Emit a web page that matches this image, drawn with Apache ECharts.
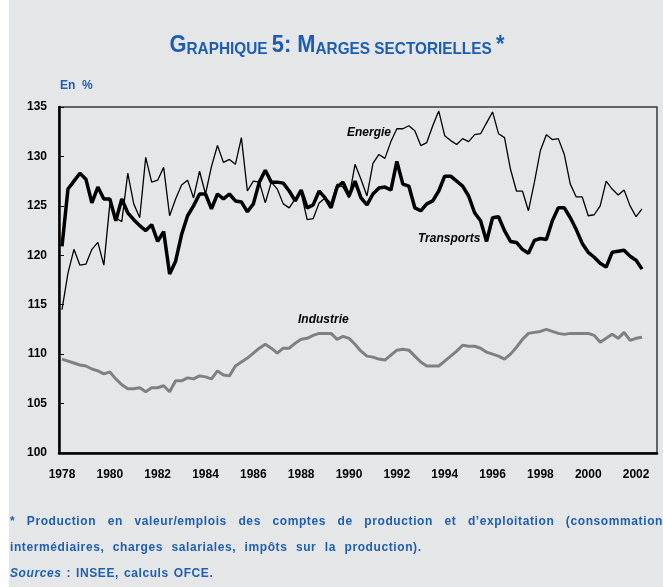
<!DOCTYPE html>
<html>
<head>
<meta charset="utf-8">
<title>Marges sectorielles</title>
<script src="https://cdn.jsdelivr.net/npm/echarts@6/dist/echarts.min.js"></script>
<style>
  html, body { margin: 0; padding: 0; background: #fff; }
  #wrap { position: relative; width: 663px; height: 587px; }
  #chart { position: absolute; left: 0; top: 0; width: 663px; height: 587px; }
  .notes {
    position: absolute; left: 10px; top: 508px; width: 653px;
    font-family: "Liberation Sans", Arial, sans-serif; font-weight: bold;
    font-size: 12px; color: #1f5fb0; line-height: 26px; letter-spacing: 0.6px;
  }
  .notes .l1 { text-align: justify; text-align-last: justify; white-space: nowrap; word-spacing: 6px; }
  .notes .l2 { word-spacing: 4.5px; }
  .notes .l3 { word-spacing: 1px; }
</style>
</head>
<body>
<div id="wrap">
  <div id="chart"></div>
  <div class="notes">
    <div class="l1">* Production en valeur/emplois des comptes de production et d’exploitation (consommation</div>
    <div class="l2">intermédiaires, charges salariales, impôts sur la production).</div>
    <div class="l3"><i>Sources</i> : INSEE, calculs OFCE.</div>
  </div>
</div>
<script>
// trimestres 1978T1 .. 2002T4, valeurs jusqu'a 2002T2
const years = ['1978','1979','1980','1981','1982','1983','1984','1985','1986','1987','1988','1989','1990',
  '1991','1992','1993','1994','1995','1996','1997','1998','1999','2000','2001','2002']
const quarters = ['T1','T2','T3','T4']
const yearLabels = ['1978','1980','1982','1984','1986','1988','1990','1992','1994','1996','1998','2000','2002']

const energie = [
  114.5, 118.2, 120.6, 119.0, 119.1, 120.6, 121.3, 119.0, 125.2, 123.8,
  123.4, 128.3, 125.2, 123.8, 129.9, 127.4, 127.6, 128.9, 124.0, 125.7,
  127.1, 127.6, 125.8, 128.5, 126.2, 129.0, 131.1, 129.4, 129.7, 129.2,
  131.9, 126.5, 127.5, 127.4, 125.3, 127.4, 126.7, 125.2, 124.8, 125.7,
  126.3, 123.6, 123.7, 125.3, 125.8, 125.3, 127.2, 126.9, 125.8, 129.2,
  127.7, 126.0, 129.3, 130.2, 129.8, 131.5, 132.8, 132.8, 133.1, 132.6,
  131.1, 131.4, 133.1, 134.6, 132.1, 131.6, 131.2, 131.8, 131.5, 132.2,
  132.3, 133.4, 134.5, 132.3, 131.9, 128.7, 126.5, 126.5, 124.5, 127.4,
  130.6, 132.2, 131.7, 131.8, 130.2, 127.2, 125.9, 125.9, 124.0, 124.1,
  125.0, 127.5, 126.7, 126.1, 126.6, 125.0, 123.9, 124.7
]
const transports = [
  120.9, 126.7, 127.5, 128.3, 127.7, 125.3, 126.9, 125.7, 125.7, 123.5,
  125.7, 124.3, 123.6, 123.0, 122.5, 123.1, 121.4, 122.4, 118.1, 119.4,
  122.1, 124.0, 125.0, 126.2, 126.2, 124.7, 126.2, 125.7, 126.2, 125.5,
  125.4, 124.4, 125.2, 127.4, 128.6, 127.4, 127.4, 127.3, 126.5, 125.5,
  126.6, 124.8, 125.1, 126.5, 125.8, 124.8, 126.9, 127.4, 126.0, 127.5,
  125.8, 125.1, 126.2, 126.8, 126.9, 126.6, 129.5, 127.2, 127.0, 124.8,
  124.5, 125.2, 125.5, 126.5, 128.0, 128.0, 127.5, 127.0, 126.0, 124.3,
  123.5, 121.4, 123.8, 123.9, 122.5, 121.4, 121.3, 120.6, 120.2, 121.5,
  121.7, 121.6, 123.5, 124.8, 124.8, 123.8, 122.6, 121.2, 120.3, 119.8,
  119.2, 118.8, 120.3, 120.4, 120.5, 119.9, 119.5, 118.6
]
const industrie = [
  109.5, 109.3, 109.1, 108.9, 108.8, 108.5, 108.3, 108.0, 108.2, 107.5,
  106.9, 106.5, 106.5, 106.6, 106.2, 106.6, 106.6, 106.8, 106.2, 107.3,
  107.3, 107.6, 107.5, 107.8, 107.7, 107.5, 108.3, 107.9, 107.8, 108.8,
  109.2, 109.6, 110.1, 110.6, 111.0, 110.6, 110.1, 110.6, 110.6, 111.1,
  111.5, 111.6, 111.9, 112.1, 112.1, 112.1, 111.5, 111.8, 111.6, 111.0,
  110.3, 109.8, 109.7, 109.5, 109.4, 109.9, 110.4, 110.5, 110.4, 109.8,
  109.2, 108.8, 108.8, 108.8, 109.3, 109.8, 110.3, 110.9, 110.8, 110.8,
  110.6, 110.2, 110.0, 109.8, 109.5, 110.0, 110.7, 111.5, 112.1, 112.2,
  112.3, 112.5, 112.3, 112.1, 112.0, 112.1, 112.1, 112.1, 112.1, 111.9,
  111.2, 111.6, 112.0, 111.6, 112.2, 111.4, 111.6, 111.7
]

const categories = []
years.forEach(y => quarters.forEach(q => categories.push(y + q)))

const blue = '#1c5db3'
const showYear = (idx, val) => val.slice(4) === 'T1' && yearLabels.includes(val.slice(0, 4))

const chart = echarts.init(document.getElementById('chart'), null, {renderer: 'canvas'})
chart.setOption({
  backgroundColor: '#e5e6e8',
  animation: false,
  grid: {
    left: 59,
    right: 6,
    top: 107,
    bottom: 134,
    show: true,
    borderColor: '#3a3a3a',
    borderWidth: 1.5,
  },
  xAxis: {
    type: 'category',
    data: categories,
    boundaryGap: true,
    axisLine: {lineStyle: {color: '#000', width: 2.5}},
    axisTick: {inside: true, length: 5, interval: showYear, lineStyle: {color: '#000', width: 1}},
    axisLabel: {
      interval: showYear,
      formatter: v => v.slice(0, 4),
      margin: 16,
      color: '#000',
      fontWeight: 'bold',
      fontSize: 12,
      fontFamily: '"Liberation Sans", Arial, sans-serif',
    },
    splitLine: {show: false},
  },
  yAxis: {
    type: 'value',
    min: 100,
    max: 135,
    interval: 5,
    axisLine: {show: true, lineStyle: {color: '#000', width: 2.5}},
    axisTick: {show: true, inside: true, length: 5, lineStyle: {color: '#000', width: 1}},
    axisLabel: {
      margin: 12,
      color: '#000',
      fontWeight: 'bold',
      fontSize: 12,
      fontFamily: '"Liberation Sans", Arial, sans-serif',
    },
    splitLine: {show: false},
  },
  series: [
    {
      name: 'Industrie',
      type: 'line',
      data: industrie,
      showSymbol: false,
      lineStyle: {color: '#808080', width: 3},
      z: 2,
    },
    {
      name: 'Energie',
      type: 'line',
      data: energie,
      showSymbol: false,
      lineStyle: {color: '#000', width: 1.3},
      z: 3,
    },
    {
      name: 'Transports',
      type: 'line',
      data: transports,
      showSymbol: false,
      lineStyle: {color: '#000', width: 3.5},
      z: 4,
    },
  ],
  graphic: [
    {type: 'rect', left: 0, top: 0, shape: {width: 9, height: 587}, style: {fill: '#fff'}, z: 100},
    {
      // titre en petites capitales, police resserree
      type: 'text', x: 337, y: 58, scaleX: 0.93,
      style: {
        text: '{b|G}{s|RAPHIQUE }{b|5: M}{s|ARGES SECTORIELLES }{b|*}',
        align: 'center',
        verticalAlign: 'bottom',
        rich: {
          b: {fontFamily: '"Liberation Sans", Arial, sans-serif', fontWeight: 'bold', fontSize: 23.5, fill: blue, lineHeight: 24, verticalAlign: 'bottom'},
          s: {fontFamily: '"Liberation Sans", Arial, sans-serif', fontWeight: 'bold', fontSize: 16.5, fill: blue, lineHeight: 24, verticalAlign: 'bottom'},
        },
      },
    },
    {
      type: 'text', left: 60, top: 80,
      style: {text: 'En  %', fill: blue, font: 'bold 12px "Liberation Sans", Arial, sans-serif'},
    },
    {
      type: 'text', left: 347, top: 127,
      style: {text: 'Energie', fill: '#000', font: 'italic bold 12px "Liberation Sans", Arial, sans-serif'},
    },
    {
      type: 'text', left: 418, top: 233,
      style: {text: 'Transports', fill: '#000', font: 'italic bold 12px "Liberation Sans", Arial, sans-serif'},
    },
    {
      type: 'text', left: 298, top: 314,
      style: {text: 'Industrie', fill: '#000', font: 'italic bold 12px "Liberation Sans", Arial, sans-serif'},
    },
  ],
})
</script>
</body>
</html>
